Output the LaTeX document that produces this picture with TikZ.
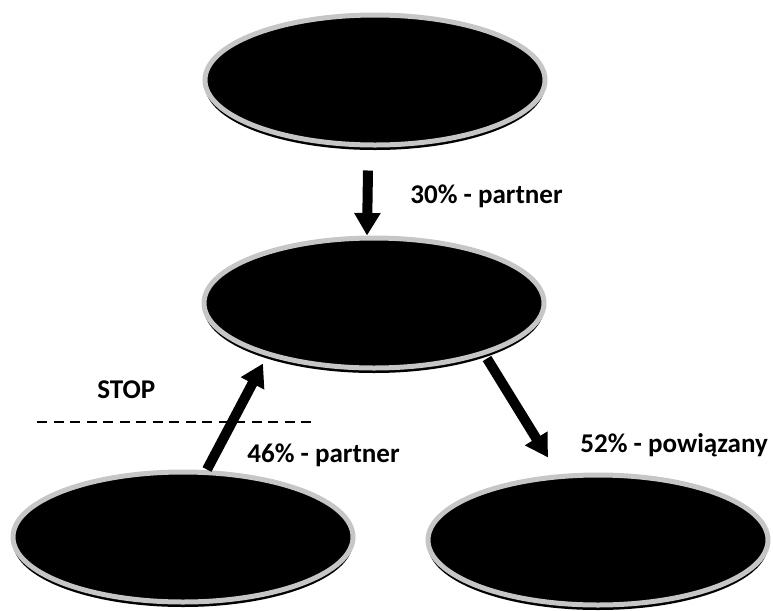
\documentclass[tikz,border=0pt]{standalone}
\usepackage{fontspec}
\setmainfont{Carlito}
\usepackage{tikz}
\usetikzlibrary{arrows.meta,shapes.geometric,shadows}

\tikzset{
	blob/.style={ellipse,fill=black,draw=gray!45,line width=0.1cm,minimum width=6.8cm,minimum height=2.6cm,inner sep=0pt,
		drop shadow={shadow xshift=0pt,shadow yshift=-0.1cm,fill=black,opacity=1}},
	lbl/.style={anchor=base west,inner sep=0pt,font=\fontsize{15.4}{18}\selectfont\bfseries},
	bigarrow/.style={line width=0.2cm,-{Triangle[length=0.45cm,width=0.5cm]}}
}

\begin{document}
\begin{tikzpicture}
	\useasboundingbox (0,0) rectangle (15.46,-12.2);
	\begin{scope}[every node/.style={blob}]
		\node (top) at (7.5,-1.6) {};
		\node (mid) at (7.48,-6.06) {};
		\node (left) at (3.66,-10.74) {};
		\node (right) at (11.96,-10.8) {};
	\end{scope}

	\node[lbl] (share1) at (8.2,-4.06) {30\% - partner};
	\node[lbl] (stop) at (1.94,-7.96) {STOP};
	\node[lbl] (share2) at (4.94,-9.24) {46\% - partner};
	\node[lbl] (share3) at (11.6,-9.04) {52\% - powiązany};

	\coordinate (stopL) at (0.74,-8.44);
	\coordinate (stopR) at (6.34,-8.44);
	\draw[line width=0.6pt,dash pattern=on 0.2cm off 0.13cm] (stopL) -- (stopR);

	\begin{scope}
	\draw[bigarrow] ([xshift=-0.14cm,yshift=-0.46cm]top.south) -- ([xshift=-0.14cm]mid.north);
	\draw[bigarrow] ([xshift=0.48cm]left.north) -- ([xshift=-2.22cm,yshift=0.14cm]mid.south);
	\draw[bigarrow] ([xshift=2.26cm,yshift=0.24cm]mid.south) -- ([xshift=-1.0cm,yshift=0.3cm]right.north);
	\end{scope}
\end{tikzpicture}
\end{document}
